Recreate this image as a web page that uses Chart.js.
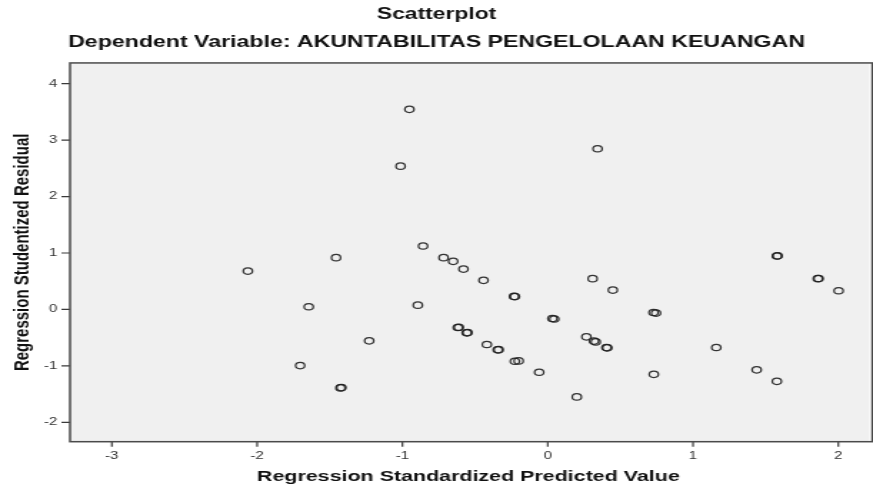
<!DOCTYPE html>
<html>
<head>
<meta charset="utf-8">
<script src="https://cdn.jsdelivr.net/npm/chart.js@4/dist/chart.umd.min.js"></script>
<style>
  html, body { margin: 0; padding: 0; background: #ffffff; overflow: hidden; }
  #wrap { width: 611px; height: 484px; transform: scaleX(1.42881); transform-origin: 0 0; }
  canvas { display: block; }
</style>
</head>
<body>
<div id="wrap"><canvas id="chart" width="611" height="484"></canvas></div>
<script>
// ---- data ----
const chartTitle = 'Scatterplot';
const chartSubtitle = 'Dependent Variable: AKUNTABILITAS PENGELOLAAN KEUANGAN';
const xAxisTitle = 'Regression Standardized Predicted Value';
const yAxisTitle = 'Regression Studentized Residual';

const predictedValues = [
  -0.952, -1.013, 0.343, -1.457, -2.064, -1.645, -1.704, -1.427, -1.420,
  -0.858, -0.717, -0.651, -0.580, -0.442, -0.232, -0.226, -0.894, 0.309,
  0.448, 0.032, 0.045, -0.619, -0.612, -0.558, -0.552, -1.229, -0.419,
  -0.344, -0.338, -0.226, -0.200, 0.266, 0.318, 0.330, 0.410, 0.404,
  -0.059, 0.200, 1.577, 1.582, 1.859, 1.864, 2.002, 0.728, 0.745,
  1.160, 0.730, 1.438, 1.577
];
const studentizedResiduals = [
  3.545, 2.539, 2.846, 0.918, 0.680, 0.048, -0.994, -1.390, -1.385,
  1.124, 0.918, 0.852, 0.715, 0.515, 0.231, 0.228, 0.076, 0.545,
  0.343, -0.160, -0.170, -0.320, -0.315, -0.414, -0.410, -0.556, -0.621,
  -0.715, -0.712, -0.918, -0.912, -0.485, -0.560, -0.575, -0.680, -0.676,
  -1.113, -1.550, 0.946, 0.950, 0.545, 0.548, 0.332, -0.055, -0.065,
  -0.675, -1.149, -1.070, -1.273
];
const xTickValues = [-3, -2, -1, 0, 1, 2];
const yTickValues = [-2, -1, 0, 1, 2, 3, 4];
const xRange = [-3.288, 2.195];
const yRange = [-2.343, 4.367];

// ---- build chart ----
const points = predictedValues.map((x, i) => ({ x: x, y: studentizedResiduals[i] }));
const FONT = 'Liberation Sans, Arial, Helvetica, sans-serif';
const X_TICK_LEN = 5, Y_TICK_LEN = 6;

const framePlugin = {
  id: 'frame',
  beforeDraw(chart) {
    const { ctx, chartArea: a } = chart;
    ctx.save();
    ctx.fillStyle = '#f0f0f0';
    ctx.fillRect(a.left, a.top, a.right - a.left + 2, a.bottom - a.top);
    ctx.restore();
  },
  afterDraw(chart) {
    const { ctx, chartArea: a, scales } = chart;
    ctx.save();
    // tick marks, placed through the library's scales
    ctx.strokeStyle = '#3a3a3a';
    ctx.lineWidth = 1.2;
    ctx.beginPath();
    scales.x.ticks.forEach(t => {
      const px = scales.x.getPixelForValue(t.value);
      ctx.moveTo(px, a.bottom);
      ctx.lineTo(px, a.bottom + X_TICK_LEN);
    });
    scales.y.ticks.forEach(t => {
      const py = scales.y.getPixelForValue(t.value);
      ctx.moveTo(a.left - Y_TICK_LEN, py);
      ctx.lineTo(a.left, py);
    });
    ctx.stroke();
    // plot frame
    ctx.strokeStyle = '#4a4a4a';
    ctx.lineWidth = 1.5;
    ctx.strokeRect(a.left, a.top, a.right - a.left + 4, a.bottom - a.top);
    ctx.restore();
  }
};

new Chart(document.getElementById('chart'), {
  type: 'scatter',
  data: {
    datasets: [{
      data: points,
      pointStyle: 'circle',
      pointRadius: 3.2,
      pointHoverRadius: 3.2,
      pointBorderWidth: 1.25,
      pointBorderColor: 'rgba(30,30,30,0.9)',
      pointBackgroundColor: 'rgba(0,0,0,0)'
    }]
  },
  options: {
    responsive: false,
    animation: false,
    devicePixelRatio: 1,
    layout: { padding: { left: 0, right: 0, top: 0, bottom: 0 } },
    plugins: {
      legend: { display: false },
      tooltip: { enabled: false },
      title: {
        display: true, text: chartTitle, color: '#111',
        font: { family: FONT, size: 16, weight: 'bold' },
        padding: { top: 5.4, bottom: 0 }
      },
      subtitle: {
        display: true, text: chartSubtitle, color: '#111',
        font: { family: FONT, size: 16.2, weight: 'bold' },
        padding: { top: 8.2, bottom: 10.7 }
      }
    },
    scales: {
      x: {
        type: 'linear', min: xRange[0], max: xRange[1],
        afterBuildTicks: s => { s.ticks = xTickValues.map(v => ({ value: v })); },
        afterFit: s => { s.height = 42.3; },
        grid: { display: true, drawOnChartArea: false, drawTicks: true, tickLength: X_TICK_LEN, color: 'rgba(0,0,0,0)' },
        border: { display: false },
        ticks: { color: '#333', font: { family: FONT, size: 10.5 }, padding: 3, autoSkip: false, maxRotation: 0,
                 callback: v => String(v) },
        title: { display: true, text: xAxisTitle, color: '#111',
                 font: { family: FONT, size: 15, weight: 'bold' }, padding: { top: 7, bottom: -2 } }
      },
      y: {
        type: 'linear', min: yRange[0], max: yRange[1],
        afterBuildTicks: s => { s.ticks = yTickValues.map(v => ({ value: v })); },
        afterFit: s => { s.width = 49; },
        grid: { display: true, drawOnChartArea: false, drawTicks: true, tickLength: Y_TICK_LEN, color: 'rgba(0,0,0,0)' },
        border: { display: false },
        ticks: { color: '#333', font: { family: FONT, size: 10.5 }, padding: 3, autoSkip: false,
                 callback: v => String(v) },
        title: { display: true, text: yAxisTitle, color: '#111',
                 font: { family: FONT, size: 15, weight: 'bold' }, padding: { top: 6.4, bottom: 0 } }
      }
    }
  },
  plugins: [framePlugin]
});
</script>
</body>
</html>
